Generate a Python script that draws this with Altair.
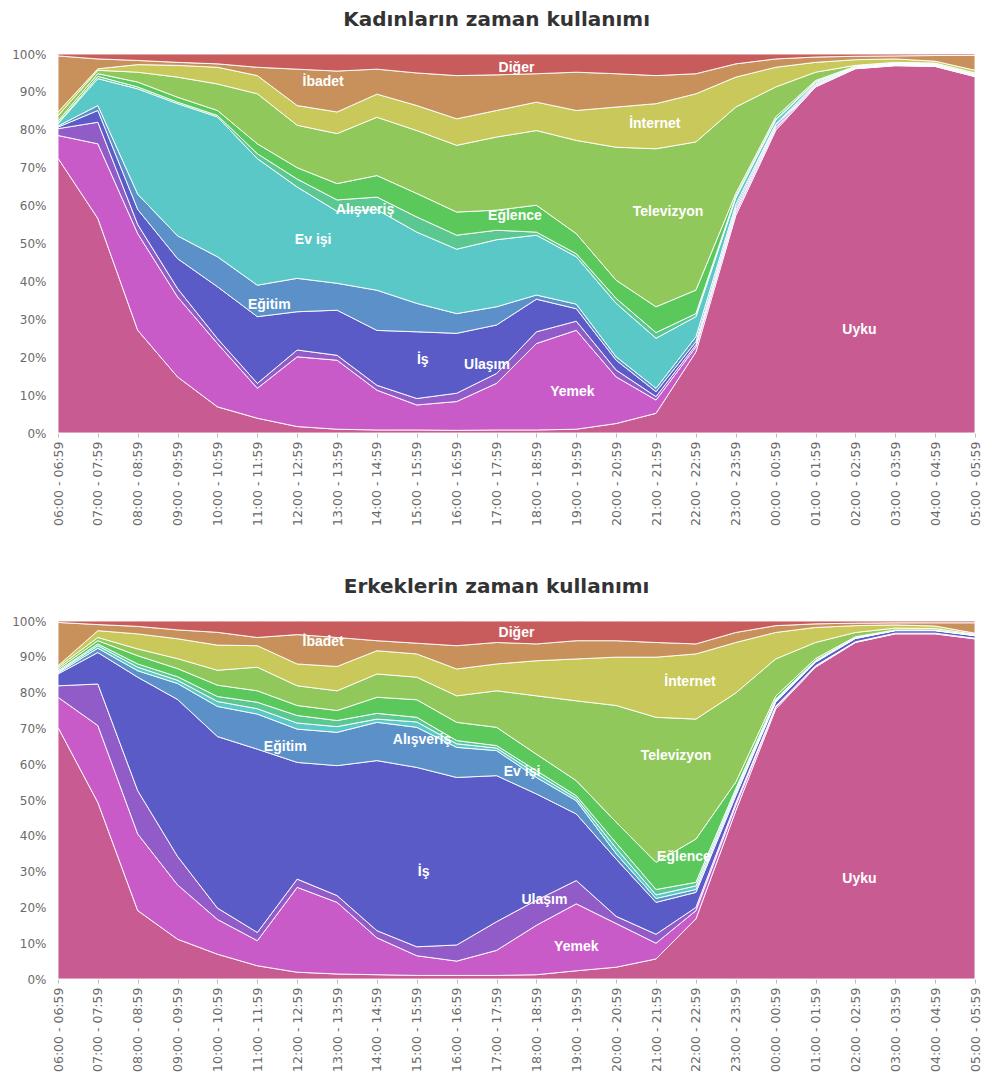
import altair as alt
import pandas as pd

TIMES = ["06:00 - 06:59", "07:00 - 07:59", "08:00 - 08:59", "09:00 - 09:59",
         "10:00 - 10:59", "11:00 - 11:59", "12:00 - 12:59", "13:00 - 13:59",
         "14:00 - 14:59", "15:00 - 15:59", "16:00 - 16:59", "17:00 - 17:59",
         "18:00 - 18:59", "19:00 - 19:59", "20:00 - 20:59", "21:00 - 21:59",
         "22:00 - 22:59", "23:00 - 23:59", "00:00 - 00:59", "01:00 - 01:59",
         "02:00 - 02:59", "03:00 - 03:59", "04:00 - 04:59", "05:00 - 05:59"]

CATEGORIES = ["Uyku", "Yemek", "Ulaşım", "İş", "Eğitim", "Ev işi", "Alışveriş",
              "Eğlence", "Televizyon", "İnternet", "İbadet", "Diğer"]
COLORS = ["#C85B91", "#C85BC8", "#915BC8", "#5B5BC8", "#5B91C8", "#5BC8C8",
          "#5BC891", "#5BC85B", "#91C85B", "#C8C85B", "#C8915B", "#C85B5B"]

# Kadınlar (%)
W_UYKU = [72.5, 56.6, 27.1, 14.8, 6.9, 3.9, 1.7, 1.0, 0.8, 0.8, 0.7, 0.8, 0.8, 1.0, 2.5, 5.2, 21.4, 57.4, 79.8, 91.3, 96.1, 97.2, 97.0, 94.3]
W_YEMEK = [6.0, 19.7, 25.5, 21.1, 16.7, 7.9, 18.4, 18.2, 10.5, 6.6, 7.6, 12.3, 22.8, 26.1, 12.3, 3.5, 1.3, 0.8, 0.5, 0.2, 0.1, 0.1, 0.1, 0.1]
W_ULASIM = [1.8, 5.7, 2.4, 2.2, 1.3, 1.3, 1.8, 1.3, 1.3, 1.7, 2.2, 2.6, 3.1, 2.4, 1.8, 0.9, 0.6, 0.6, 0.4, 0.2, 0.1, 0.1, 0.1, 0.1]
W_IS = [0.4, 3.1, 4.0, 7.9, 13.7, 17.6, 10.1, 11.9, 14.5, 17.6, 15.8, 12.8, 8.6, 3.3, 2.6, 1.3, 0.8, 0.7, 0.4, 0.2, 0.1, 0.1, 0.1, 0.1]
W_EGITIM = [0.3, 1.3, 4.0, 6.0, 7.9, 8.3, 8.8, 7.1, 10.6, 7.5, 5.2, 4.8, 1.1, 1.2, 0.9, 0.9, 1.3, 0.8, 0.4, 0.2, 0.1, 0.1, 0.1, 0.1]
W_EVISI = [0.6, 7.1, 27.8, 34.9, 36.9, 33.4, 24.1, 19.0, 21.3, 18.8, 17.0, 17.7, 15.8, 12.5, 14.1, 13.2, 5.3, 1.7, 1.0, 0.4, 0.1, 0.1, 0.1, 0.1]
W_ALISVERIS = [0.2, 0.6, 0.5, 0.4, 0.4, 1.3, 2.1, 3.0, 3.3, 4.0, 3.7, 2.5, 0.8, 0.8, 1.3, 1.5, 0.8, 0.5, 0.3, 0.2, 0.1, 0.1, 0.1, 0.1]
W_EGLENCE = [0.5, 0.7, 1.3, 1.3, 1.3, 2.6, 3.0, 4.3, 5.7, 6.2, 6.1, 5.3, 7.1, 5.3, 4.8, 6.8, 6.2, 0.7, 0.6, 0.3, 0.1, 0.1, 0.1, 0.1]
W_TV = [1.4, 0.9, 2.6, 5.3, 7.0, 13.2, 11.2, 13.2, 15.4, 16.6, 17.6, 19.3, 19.7, 24.6, 35.1, 41.7, 39.1, 22.8, 7.9, 2.2, 0.2, 0.2, 0.2, 0.3]
W_INTERNET = [1.0, 0.4, 2.0, 3.1, 4.4, 4.8, 5.2, 5.7, 6.1, 6.6, 7.0, 7.0, 7.5, 7.9, 10.6, 11.9, 12.7, 7.9, 5.2, 2.6, 1.5, 0.9, 0.5, 0.7]
W_IBADET = [14.8, 2.6, 1.1, 0.8, 0.9, 2.2, 9.6, 10.8, 6.6, 8.6, 11.4, 9.4, 7.5, 10.1, 8.8, 7.4, 5.3, 3.5, 2.2, 1.4, 0.9, 0.8, 1.5, 3.9]
W_DIGER = [0.5, 1.3, 1.7, 2.2, 2.6, 3.5, 4.0, 4.5, 4.0, 5.0, 5.7, 5.5, 5.2, 4.8, 5.2, 5.7, 5.2, 2.6, 1.3, 0.8, 0.6, 0.5, 0.4, 0.4]

# Erkekler (%)
M_UYKU = [70.3, 49.3, 19.1, 11.2, 7.0, 3.7, 1.9, 1.4, 1.2, 1.0, 1.0, 1.0, 1.2, 2.3, 3.3, 5.6, 16.8, 47.0, 75.4, 87.1, 94.0, 96.4, 96.4, 95.0]
M_YEMEK = [8.4, 21.5, 21.4, 15.3, 9.8, 7.0, 23.7, 20.0, 10.3, 5.5, 4.0, 7.0, 13.8, 18.7, 12.2, 4.4, 2.3, 1.5, 0.5, 0.2, 0.1, 0.1, 0.1, 0.1]
M_ULASIM = [3.2, 11.6, 12.1, 8.0, 3.2, 2.3, 2.3, 1.9, 2.0, 2.5, 4.5, 8.0, 7.0, 6.5, 2.0, 2.5, 0.9, 0.7, 0.3, 0.2, 0.1, 0.1, 0.1, 0.1]
M_IS = [3.3, 8.8, 31.7, 44.2, 48.4, 51.2, 32.6, 36.3, 47.5, 50.1, 46.8, 40.8, 29.7, 18.6, 16.0, 8.9, 4.2, 2.0, 1.1, 1.0, 0.9, 0.7, 0.7, 0.7]
M_EGITIM = [0.3, 1.2, 1.8, 4.5, 8.5, 9.8, 9.3, 9.3, 10.7, 11.2, 8.4, 7.0, 4.6, 3.7, 1.5, 1.1, 0.8, 0.6, 0.3, 0.2, 0.1, 0.05, 0.05, 0.05]
M_EVISI = [0.3, 0.7, 1.0, 0.9, 1.4, 1.5, 1.7, 1.6, 0.9, 1.5, 1.0, 0.7, 1.0, 0.7, 1.5, 1.0, 1.0, 0.7, 0.3, 0.2, 0.1, 0.05, 0.05, 0.05]
M_ALISVERIS = [0.3, 0.5, 0.9, 1.0, 1.4, 1.8, 2.1, 1.7, 1.6, 1.3, 0.9, 0.7, 0.9, 0.7, 1.5, 1.5, 1.0, 0.7, 0.3, 0.1, 0.1, 0.05, 0.05, 0.05]
M_EGLENCE = [0.5, 0.9, 2.3, 2.3, 3.2, 3.2, 2.8, 2.8, 4.5, 4.9, 5.1, 5.1, 4.6, 4.2, 5.8, 7.6, 12.1, 1.8, 0.8, 0.5, 0.2, 0.05, 0.05, 0.05]
M_TV = [0.5, 0.9, 1.9, 2.8, 4.2, 6.6, 5.5, 5.5, 6.5, 6.3, 7.4, 10.2, 16.3, 22.3, 32.6, 40.5, 33.5, 24.9, 10.4, 4.5, 1.2, 0.5, 0.4, 0.2]
M_INTERNET = [0.4, 1.9, 4.2, 5.6, 7.1, 6.0, 6.1, 6.8, 6.5, 6.5, 7.5, 7.5, 9.8, 11.7, 13.5, 16.8, 18.2, 14.1, 7.4, 4.2, 1.9, 0.9, 0.7, 0.3]
M_IBADET = [12.1, 1.7, 2.1, 2.5, 3.6, 2.3, 8.2, 8.1, 2.8, 3.0, 6.5, 6.0, 4.7, 5.1, 4.6, 4.1, 2.8, 2.8, 1.9, 1.0, 0.7, 0.6, 0.9, 2.9]
M_DIGER = [0.4, 1.0, 1.5, 2.5, 3.2, 4.6, 3.8, 4.6, 5.5, 6.2, 6.9, 6.0, 6.4, 5.5, 5.5, 6.0, 6.4, 3.2, 1.3, 0.8, 0.6, 0.5, 0.5, 0.5]

WOMEN = [W_UYKU, W_YEMEK, W_ULASIM, W_IS, W_EGITIM, W_EVISI, W_ALISVERIS,
         W_EGLENCE, W_TV, W_INTERNET, W_IBADET, W_DIGER]
MEN = [M_UYKU, M_YEMEK, M_ULASIM, M_IS, M_EGITIM, M_EVISI, M_ALISVERIS,
       M_EGLENCE, M_TV, M_INTERNET, M_IBADET, M_DIGER]

# series labels drawn inside the areas: (text, time position index, share)
W_LABEL_TEXT = ["Diğer", "İbadet", "İnternet", "Alışveriş", "Eğlence", "Televizyon",
                "Ev işi", "Eğitim", "İş", "Ulaşım", "Yemek", "Uyku"]
W_LABEL_X = [11.5, 6.65, 14.97, 7.7, 11.46, 15.3, 6.4, 5.3, 9.15, 10.76, 12.9, 20.1]
W_LABEL_Y = [0.964, 0.925, 0.814, 0.588, 0.572, 0.582, 0.509, 0.337, 0.192, 0.179, 0.108, 0.271]

M_LABEL_TEXT = ["İbadet", "Diğer", "İnternet", "Eğitim", "Alışveriş", "Ev işi",
                "Televizyon", "Eğlence", "İş", "Ulaşım", "Yemek", "Uyku"]
M_LABEL_X = [6.65, 11.5, 15.85, 5.7, 9.13, 11.64, 15.5, 15.7, 9.17, 12.2, 13.0, 20.1]
M_LABEL_Y = [0.941, 0.966, 0.83, 0.648, 0.668, 0.578, 0.623, 0.341, 0.299, 0.221, 0.089, 0.279]


def long_frame(series):
    rows = []
    for k, (cat, vals) in enumerate(zip(CATEGORIES, series)):
        for t, v in zip(TIMES, vals):
            rows.append({"zaman": t, "faaliyet": cat, "oran": v, "sira": k})
    return pd.DataFrame(rows)


def panel(series, texts, xs, ys, title, height):
    df = long_frame(series)
    area = alt.Chart(df).mark_area(
        stroke="white", strokeWidth=1, strokeOpacity=0.9, interpolate="linear"
    ).encode(
        x=alt.X("zaman:N", sort=TIMES, title=None,
                scale=alt.Scale(padding=0),
                axis=alt.Axis(labelAngle=270, labelFontSize=12.5, labelColor="#6a6a6a",
                              labelFont="DejaVu Sans", tickColor="#bbbbbb", tickSize=4,
                              domain=False, labelPadding=4)),
        y=alt.Y("oran:Q", stack="normalize", title=None,
                scale=alt.Scale(domain=[0, 1], nice=False),
                axis=alt.Axis(format=".0%", values=[i / 10 for i in range(11)],
                              grid=False, ticks=False, domain=False,
                              labelFontSize=12, labelColor="#6a6a6a",
                              labelFont="DejaVu Sans", labelPadding=12)),
        color=alt.Color("faaliyet:N", legend=None,
                        scale=alt.Scale(domain=CATEGORIES, range=COLORS)),
        order=alt.Order("sira:Q", sort="ascending"),
    )
    ldf = pd.DataFrame({"etiket": texts, "xi": xs, "yv": ys})
    labels = alt.Chart(ldf).mark_text(
        color="white", fontSize=14, fontWeight="bold", font="Liberation Sans"
    ).encode(
        x=alt.X("xi:Q", scale=alt.Scale(domain=[0, len(TIMES) - 1], nice=False), axis=None),
        y=alt.Y("yv:Q", scale=alt.Scale(domain=[0, 1], nice=False), axis=None),
        text="etiket:N",
    )
    return alt.layer(area, labels).resolve_scale(x="independent", y="independent").properties(
        width=917, height=height,
        title=alt.TitleParams(title, fontSize=20, font="DejaVu Sans", fontWeight="bold",
                              color="#333333", anchor="middle", frame="bounds", offset=18),
    )


top = panel(WOMEN, W_LABEL_TEXT, W_LABEL_X, W_LABEL_Y, "Kadınların zaman kullanımı", 379)
bottom = panel(MEN, M_LABEL_TEXT, M_LABEL_X, M_LABEL_Y, "Erkeklerin zaman kullanımı", 358)

chart = alt.vconcat(top, bottom, spacing=51).properties(
    padding={"left": 3, "top": 2, "right": 0, "bottom": 0}
).configure_view(stroke=None)

chart.save("out.html", embed_options={"renderer": "svg", "actions": False})
